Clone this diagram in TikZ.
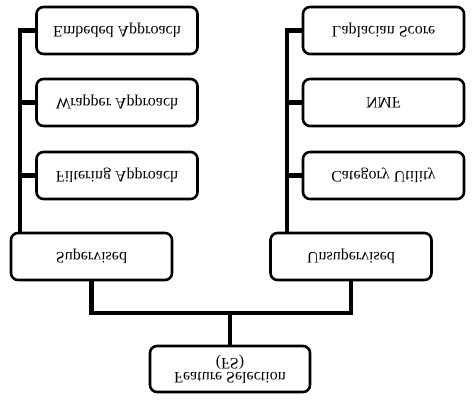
\documentclass[tikz,border=0pt]{standalone}
\usepackage{fontspec}
\setmainfont{Liberation Serif}
\newcommand{\flipt}[1]{\scalebox{1}[-1]{#1}}
\begin{document}
\begin{tikzpicture}[x=1pt,y=1pt,
  box/.style={draw, line width=2.6pt, rounded corners=7pt, minimum width=161pt, minimum height=47pt, inner sep=2pt, align=center, font=\fontsize{16}{17}\selectfont},
  conn/.style={line width=4.8pt, line cap=butt}]
\useasboundingbox (0,0) rectangle (474,-400);
\node[box] (emb) at (117,-30.5) {\flipt{Embeded Approach}};
\node[box] (wrap) at (117,-102.5) {\flipt{Wrapper Approach}};
\node[box] (filt) at (117,-175.5) {\flipt{Filtering Approach}};
\node[box] (lap) at (383.5,-30.5) {\flipt{Laplacian Score}};
\node[box] (nmf) at (383.5,-102.5) {\flipt{NMF}};
\node[box] (cat) at (383.5,-175.5) {\flipt{Category Utility}};
\node[box] (sup) at (91.5,-256.5) {\flipt{Supervised}};
\node[box] (uns) at (351,-256.5) {\flipt{Unsupervised}};
\node[box, minimum width=160pt, minimum height=46pt] (fs) at (230,-369) {\flipt{\shortstack{Feature Selection\\(FS)}}};
\coordinate (lt) at (20,0);
\coordinate (rt) at (287,0);
\coordinate (mid) at (230,-313);
\draw[conn] (emb.west) -| (lt |- sup.north);
\draw[conn] (wrap.west) -- (wrap.west -| lt);
\draw[conn] (filt.west) -- (filt.west -| lt);
\draw[conn] (lap.west) -| (rt |- uns.north);
\draw[conn] (nmf.west) -- (nmf.west -| rt);
\draw[conn] (cat.west) -- (cat.west -| rt);
\draw[conn] (sup.south) |- (mid) -| (uns.south);
\draw[conn] (mid) -- (fs.north);
\end{tikzpicture}
\end{document}
